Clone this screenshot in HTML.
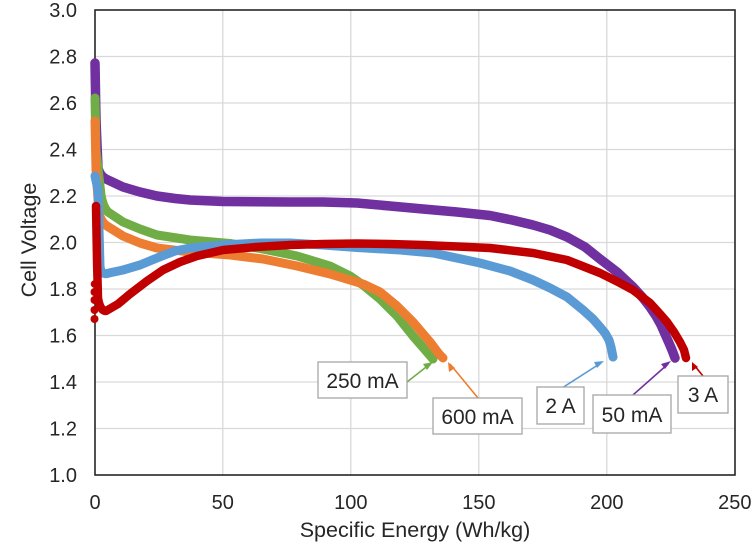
<!DOCTYPE html>
<html><head><meta charset="utf-8"><style>
html,body{margin:0;padding:0;background:#fff;}
svg{display:block;font-family:"Liberation Sans",Arial,sans-serif;}
</style></head><body>
<svg width="756" height="543" viewBox="0 0 756 543" xmlns="http://www.w3.org/2000/svg">
<rect width="756" height="543" fill="#fff"/>
<!-- gridlines -->
<g stroke="#d9d9d9" stroke-width="1.3">
<line x1="95" y1="56.5" x2="735" y2="56.5"/>
<line x1="95" y1="103" x2="735" y2="103"/>
<line x1="95" y1="149.5" x2="735" y2="149.5"/>
<line x1="95" y1="196" x2="735" y2="196"/>
<line x1="95" y1="242.5" x2="735" y2="242.5"/>
<line x1="95" y1="289" x2="735" y2="289"/>
<line x1="95" y1="335.5" x2="735" y2="335.5"/>
<line x1="95" y1="382" x2="735" y2="382"/>
<line x1="95" y1="428.5" x2="735" y2="428.5"/>
<line x1="222.8" y1="10" x2="222.8" y2="475"/>
<line x1="350.8" y1="10" x2="350.8" y2="475"/>
<line x1="478.8" y1="10" x2="478.8" y2="475"/>
<line x1="606.8" y1="10" x2="606.8" y2="475"/>
</g>
<rect x="95" y="10" width="640" height="465" fill="none" stroke="#262626" stroke-width="1.6"/>
<!-- y tick labels -->
<g font-size="20" fill="#262626" text-anchor="end">
<text x="77" y="17">3.0</text>
<text x="77" y="63.5">2.8</text>
<text x="77" y="110">2.6</text>
<text x="77" y="156.5">2.4</text>
<text x="77" y="203">2.2</text>
<text x="77" y="249.5">2.0</text>
<text x="77" y="296">1.8</text>
<text x="77" y="342.5">1.6</text>
<text x="77" y="389">1.4</text>
<text x="77" y="435.5">1.2</text>
<text x="77" y="482">1.0</text>
</g>
<g font-size="20" fill="#262626" text-anchor="middle">
<text x="95" y="509">0</text>
<text x="222.8" y="509">50</text>
<text x="350.8" y="509">100</text>
<text x="478.8" y="509">150</text>
<text x="606.8" y="509">200</text>
<text x="734.8" y="509">250</text>
</g>
<text x="415" y="537" font-size="21.5" fill="#262626" text-anchor="middle">Specific Energy (Wh/kg)</text>
<text transform="translate(36,240) rotate(-90)" font-size="21.5" fill="#262626" text-anchor="middle">Cell Voltage</text>

<g fill="none" stroke-linecap="round" stroke-linejoin="round">
<!-- purple 50 mA -->
<path stroke="#7030a0" stroke-width="9.5" d="M95,63 L96,120 L98,168 Q100,176 106,179 L123,187 L140,192 L157,196 L175,198.5 L190,200 L223,201.5 L290,202 L323,202 L357,203 L390,206 L423,209 L457,212 L490,215.5 L512,220 L533,225 L550,230 L567,237 L585,247 L600,259 L617,272 L633,287 L643,298 L650,307 L656,316 L661,325 L665,334 L669,343 L672,350 L675,358"/>
<!-- green 250 mA -->
<path stroke="#70ad47" stroke-width="9" d="M95,98 L96,150 L101,195 Q103,207 108,212 L123,222 L140,229 L157,235 L190,240 L230,243.5 L263,249 L297,256 L330,266 L350,276 L363,285 L380,299 L397,316 L413,336 L420,344 L426,351 L433,359"/>
<!-- orange 600 mA -->
<path stroke="#ed7d31" stroke-width="9" d="M95,121 L96,170 L99,213 Q101,222 107,226 L123,236 L140,243 L157,248 L190,252 L230,255 L263,259 L297,266 L330,274 L363,284 L380,292 L397,306 L413,322 L430,342 L436,350 L440,355 L443,358"/>
<!-- blue 2 A -->
<path stroke="#5b9bd5" stroke-width="9" d="M95,176 L98,190 L100,266 Q101,276 109,273 L123,270 L140,265 L157,258 L175,251 L190,248 L223,245 L260,243 L290,243 L323,245 L357,247.5 L400,250 L433,253 L480,263 L510,271 L533,280 L550,288 L567,297 L583,310 L593,319 L600,327 L605,333 L609,340 L611,347 L613,357"/>
<!-- red 3 A -->
<path stroke="#c00000" stroke-width="8.5" d="M96,206 L97,260 L98,298 Q100,311 106,311 L118,304 L130,294 L147,281 L163,270 L180,262 L197,256 L223,250 L256,247 L290,245 L323,244 L357,243.5 L390,244 L423,245 L457,246.5 L490,248 L533,253 L567,260 L600,273 L620,283 L633,290 L650,303 L660,314 L667,322 L674,332 L680,342 L684,350 L686,358"/>
</g>
<g fill="#c00000">
<circle cx="94.5" cy="284" r="3.8"/>
<circle cx="94.5" cy="292" r="4"/>
<circle cx="94.5" cy="300" r="4"/>
<circle cx="94.5" cy="310" r="4"/>
<circle cx="94.5" cy="319" r="4"/>
</g>

<!-- annotation arrows -->
<g stroke-width="1.6" fill="none">
<line x1="407" y1="382" x2="430" y2="364" stroke="#70ad47"/>
<line x1="478" y1="398" x2="450" y2="364" stroke="#ed7d31"/>
<line x1="562" y1="388" x2="601" y2="363" stroke="#5b9bd5"/>
<line x1="633" y1="395" x2="668" y2="364" stroke="#7030a0"/>
<line x1="703" y1="376" x2="694" y2="365" stroke="#c00000"/>
</g>
<polygon points="433,362 423,364 427,370" fill="#70ad47"/>
<polygon points="448,362 449,372 455,368" fill="#ed7d31"/>
<polygon points="604,361 594,362 597,368" fill="#5b9bd5"/>
<polygon points="671,361 661,364 665,369" fill="#7030a0"/>
<polygon points="692,362 692,371 698,367" fill="#c00000"/>

<!-- label boxes -->
<g fill="#fff" stroke="#a6a6a6" stroke-width="1.3">
<rect x="318" y="362" width="89" height="36"/>
<rect x="433" y="398" width="89" height="36"/>
<rect x="537" y="387" width="47" height="37"/>
<rect x="593" y="395" width="78" height="38"/>
<rect x="678" y="376" width="50" height="37"/>
</g>
<g font-size="21" fill="#262626" text-anchor="middle">
<text x="362.5" y="388">250 mA</text>
<text x="477.5" y="424">600 mA</text>
<text x="560.5" y="413">2 A</text>
<text x="632" y="422">50 mA</text>
<text x="703" y="402">3 A</text>
</g>
</svg>
</body></html>
